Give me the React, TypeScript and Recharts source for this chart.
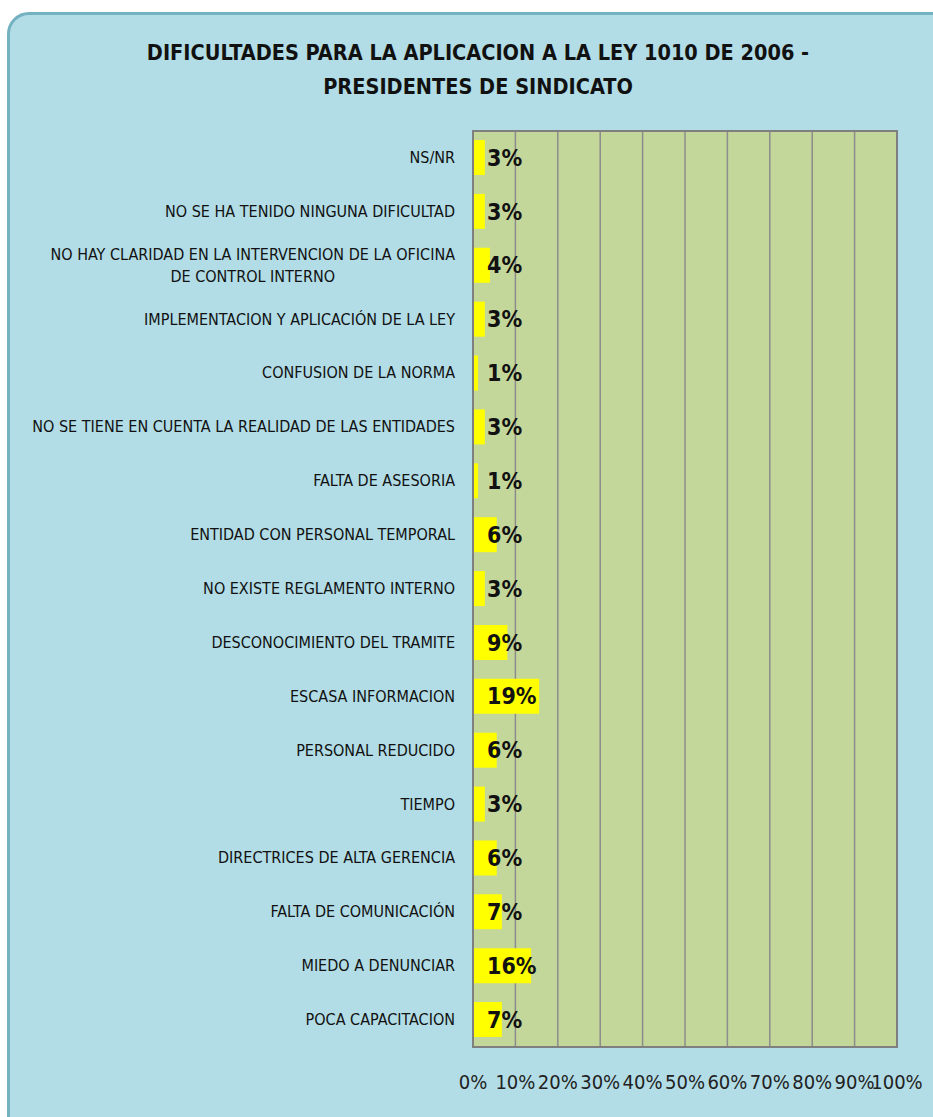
import React from "react";
import { Bar, BarChart, CartesianGrid, LabelList, ReferenceArea, XAxis, YAxis } from "recharts";

const FONT = '"Liberation Sans Narrow", "DejaVu Sans Condensed", "Liberation Sans", sans-serif';

const TITLE = [
  "DIFICULTADES PARA LA APLICACION A LA LEY 1010 DE 2006 -",
  "PRESIDENTES DE SINDICATO",
];

const categories = [
  "NS/NR",
  "NO SE HA TENIDO NINGUNA DIFICULTAD",
  "NO HAY CLARIDAD EN LA INTERVENCION DE LA OFICINA|DE CONTROL INTERNO",
  "IMPLEMENTACION Y APLICACIÓN DE LA LEY",
  "CONFUSION DE LA NORMA",
  "NO SE TIENE EN CUENTA LA REALIDAD DE LAS ENTIDADES",
  "FALTA DE ASESORIA",
  "ENTIDAD CON PERSONAL TEMPORAL",
  "NO EXISTE REGLAMENTO INTERNO",
  "DESCONOCIMIENTO DEL TRAMITE",
  "ESCASA INFORMACION",
  "PERSONAL REDUCIDO",
  "TIEMPO",
  "DIRECTRICES DE ALTA GERENCIA",
  "FALTA DE COMUNICACIÓN",
  "MIEDO A DENUNCIAR",
  "POCA CAPACITACION",
];

// bar lengths as drawn (percent)
const values = [2.8, 2.8, 4.0, 2.8, 1.2, 2.8, 1.2, 5.6, 2.8, 8.1, 15.6, 5.6, 2.8, 5.6, 6.8, 13.7, 6.8];

// data labels as printed on the chart
const labels = ["3%", "3%", "4%", "3%", "1%", "3%", "1%", "6%", "3%", "9%", "19%", "6%", "3%", "6%", "7%", "16%", "7%"];

const xTicks = [0, 10, 20, 30, 40, 50, 60, 70, 80, 90, 100];

const data = categories.map((name, i) => ({ name, value: values[i], label: labels[i] }));

let ctx: CanvasRenderingContext2D | null = null;
function textWidth(s: string, font: string) {
  if (!ctx) ctx = document.createElement("canvas").getContext("2d");
  if (!ctx) return s.length * 7;
  ctx.font = font;
  return ctx.measureText(s).width;
}

const LABEL_RIGHT = 455;
const LABEL_SIZE = 16;

function CategoryTick(props: any) {
  const { y, payload } = props;
  const lines = String(payload.value).split("|");
  if (lines.length === 1) {
    return (
      <text x={LABEL_RIGHT} y={y} dy={5} textAnchor="end" fontSize={LABEL_SIZE} fill="#111" fontFamily={FONT}>
        {lines[0]}
      </text>
    );
  }
  const w = textWidth(lines[0], `${LABEL_SIZE}px ${FONT}`);
  const cx = LABEL_RIGHT - w / 2;
  return (
    <text textAnchor="middle" fontSize={LABEL_SIZE} fill="#111" fontFamily={FONT}>
      {lines.map((l, i) => (
        <tspan key={i} x={cx} y={y + (i - (lines.length - 1) / 2) * 22 + 5}>
          {l}
        </tspan>
      ))}
    </text>
  );
}

export default function App() {
  return (
    <div style={{ position: "absolute", left: 0, top: 0, width: 933, height: 1117, background: "#fff", overflow: "hidden" }}>
      <div
        style={{
          position: "absolute",
          left: 7,
          top: 12,
          width: 960,
          height: 1140,
          background: "#b2dde6",
          border: "3px solid #74b2c2",
          borderRadius: 22,
          boxSizing: "border-box",
        }}
      />
      <div
        style={{
          position: "absolute",
          left: 0,
          top: 36,
          width: 956,
          textAlign: "center",
          fontFamily: FONT,
          fontWeight: "bold",
          fontSize: 21.5,
          lineHeight: "34px",
          color: "#111",
        }}
      >
        {TITLE.map((t) => (
          <div key={t}>{t}</div>
        ))}
      </div>
      <div style={{ position: "absolute", left: 0, top: 0 }}>
        <BarChart
          width={933}
          height={1117}
          data={data}
          layout="vertical"
          margin={{ top: 131, right: 36, bottom: 0, left: 0 }}
        >
          <CartesianGrid horizontal={false} fill="#c4d79b" stroke="#8c8c8c" strokeWidth={1.5} />
          <XAxis
            type="number"
            domain={[0, 100]}
            ticks={xTicks}
            interval={0}
            tickFormatter={(v) => `${v}%`}
            tickLine={false}
            axisLine={{ stroke: "#7f7f7f", strokeWidth: 2 }}
            tick={{ fontSize: 20, fill: "#222", fontFamily: FONT }}
            tickMargin={22}
            height={70}
          />
          <YAxis
            type="category"
            dataKey="name"
            width={473}
            tickLine={false}
            interval={0}
            axisLine={{ stroke: "#7f7f7f", strokeWidth: 2 }}
            tick={<CategoryTick />}
          />
          <ReferenceArea x1={0} x2={100} fill="none" stroke="#7f7f7f" strokeWidth={2} />
          <Bar dataKey="value" fill="#ffff00" barSize={35} isAnimationActive={false}>
            <LabelList
              dataKey="label"
              position="insideLeft"
              offset={14}
              fill="#111"
              fontSize={23}
              fontWeight="bold"
              fontFamily={FONT}
            />
          </Bar>
        </BarChart>
      </div>
    </div>
  );
}
